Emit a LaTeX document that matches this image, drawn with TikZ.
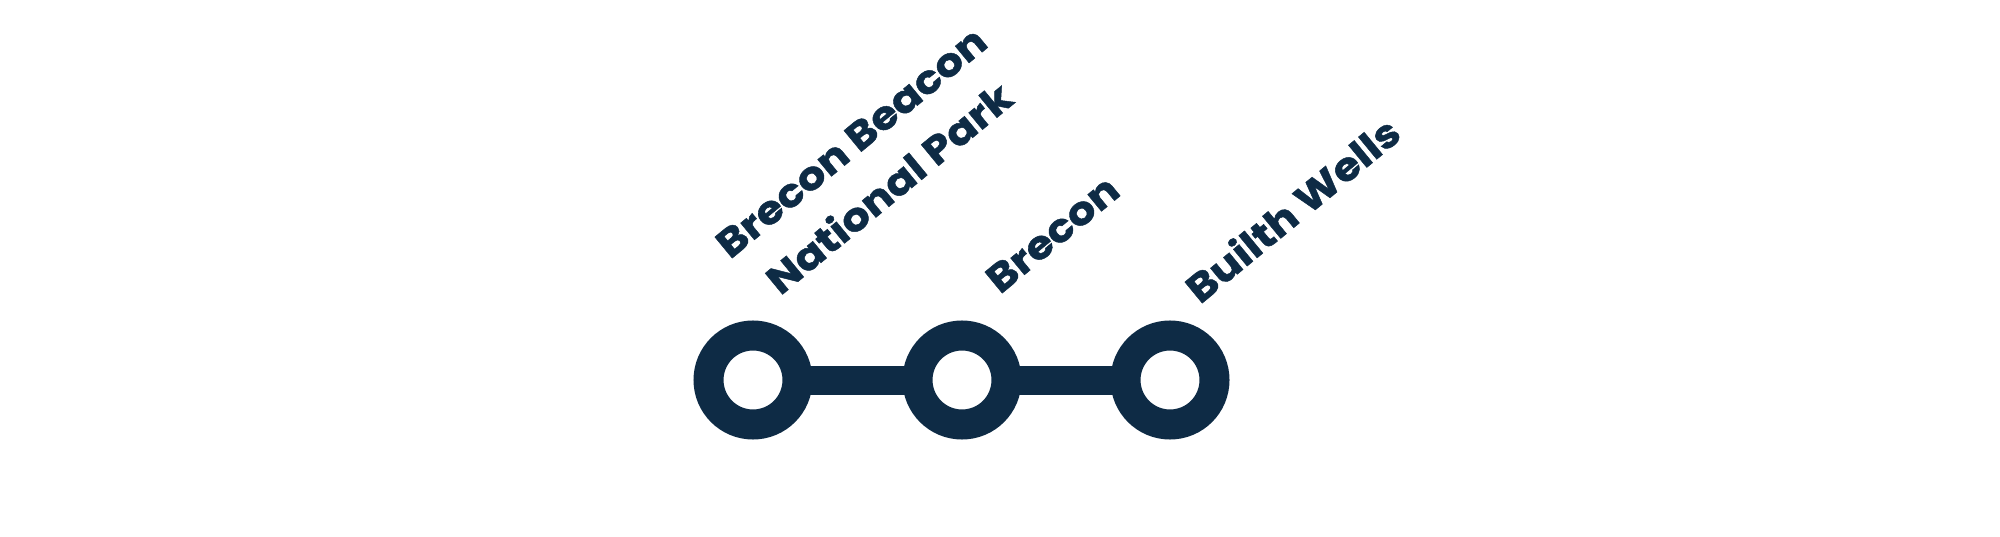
\documentclass[tikz,border=0pt]{standalone}
\usepackage{fontspec}
\usetikzlibrary{backgrounds}
\newfontfamily\lblfont{Poppins}[FakeStretch=1.12,BoldFeatures={FakeBold=1.2}]
\definecolor{navy}{RGB}{14,43,69}
\begin{document}
\begin{tikzpicture}[x=1pt,y=-1pt,
  station/.style={circle,draw=navy,fill=white,line width=30pt,minimum size=89pt,inner sep=0pt},
  link/.style={draw=navy,line width=29pt},
  lbl/.style={text=navy,font=\lblfont\fontsize{39}{60}\selectfont\bfseries,rotate=39.5,inner sep=0pt,anchor=base west}]
\useasboundingbox (0,0) rectangle (2000,537);
\node[station] (s1) at (753,380) {};
\node[station] (s2) at (962,380) {};
\node[station] (s3) at (1170,380) {};
\begin{scope}[on background layer]
\draw[link] (s1.center) -- (s2.center);
\draw[link] (s2.center) -- (s3.center);
\end{scope}
\node[lbl] (l1) at (730,260) {\begin{tabular}[t]{@{}c@{}}Brecon Beacon\\National Park\end{tabular}};
\node[lbl] (l2) at (1000,295) {Brecon};
\node[lbl] (l3) at (1200,305) {Builth Wells};
\end{tikzpicture}
\end{document}
